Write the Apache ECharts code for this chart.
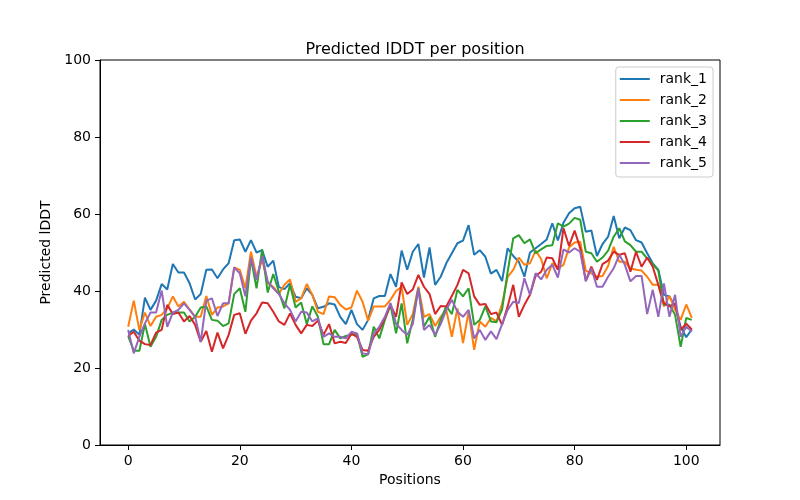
<!DOCTYPE html>
<html>
<head>
<meta charset="utf-8">
<script src="https://cdn.jsdelivr.net/npm/echarts@6/dist/echarts.min.js"></script>
<style>html,body{margin:0;padding:0;background:#fff}#c{width:800px;height:500px}</style>
</head>
<body>
<div id="c"></div>
<script>
const positions = [0,1,2,3,4,5,6,7,8,9,10,11,12,13,14,15,16,17,18,19,20,21,22,23,24,25,26,27,28,29,30,31,32,33,34,35,36,37,38,39,40,41,42,43,44,45,46,47,48,49,50,51,52,53,54,55,56,57,58,59,60,61,62,63,64,65,66,67,68,69,70,71,72,73,74,75,76,77,78,79,80,81,82,83,84,85,86,87,88,89,90,91,92,93,94,95,96,97,98,99,100,101];
const seriesNames = ["rank_1","rank_2","rank_3","rank_4","rank_5"];
const xTicks = [0,20,40,60,80,100];

const rank1 = [29.0,30.0,28.6,38.3,35.1,37.5,41.8,40.4,47.0,44.8,44.8,42.0,37.8,39.2,45.5,45.6,43.3,45.6,47.2,53.2,53.4,50.2,53.2,50.0,50.6,46.3,47.9,41.0,40.5,42.0,38.5,38.1,40.7,39.0,35.5,35.9,36.8,36.5,33.3,31.4,35.1,31.4,29.9,32.5,38.1,38.7,38.7,44.4,41.1,50.5,45.5,50.2,52.2,43.5,51.3,41.6,43.7,47.2,49.8,52.4,53.1,57.1,49.4,50.6,48.9,44.5,45.5,42.6,51.1,49.1,47.6,43.7,50.0,51.1,52.2,53.4,57.6,53.1,57.7,60.2,61.5,61.9,55.4,55.7,49.1,52.2,54.1,59.5,53.7,56.5,55.8,53.2,52.6,49.8,47.2,45.5,39.0,38.6,35.9,30.7,28.0,30.0];
const rank2 = [30.7,37.5,29.9,34.4,30.9,33.3,33.8,35.5,38.6,36.0,37.2,35.2,33.3,33.3,38.7,33.8,35.7,36.0,36.8,46.1,45.5,40.7,50.2,43.7,48.1,42.0,41.1,39.2,41.6,43.0,37.2,38.1,41.8,39.0,34.6,34.0,38.6,38.4,36.4,35.2,35.7,40.1,37.2,32.3,36.0,36.0,36.0,37.7,40.0,41.1,31.2,34.0,41.1,33.3,34.0,30.9,33.3,35.1,28.1,35.5,26.5,34.6,24.7,32.1,30.7,33.0,32.1,36.6,43.7,45.5,48.7,46.8,47.2,50.5,48.3,43.3,47.2,45.9,46.8,51.3,52.6,52.8,45.3,44.6,43.7,43.9,46.5,51.5,47.6,47.6,45.9,45.5,45.3,43.7,41.6,41.6,36.0,38.7,35.1,32.5,36.5,33.0];
const rank3 = [28.3,24.5,24.5,31.4,25.5,28.1,32.5,33.8,34.4,34.4,34.4,32.1,33.3,35.7,36.0,32.5,32.3,30.9,31.6,39.2,40.7,34.6,48.5,40.7,50.8,39.6,44.4,39.8,35.5,41.6,35.7,37.0,31.4,36.0,33.3,26.2,26.2,29.9,27.7,28.3,28.6,28.9,22.9,23.6,30.7,27.7,32.5,36.4,29.0,36.8,26.4,32.6,40.7,30.7,33.3,28.1,32.5,36.1,34.0,40.3,38.6,40.7,31.2,32.5,36.0,32.1,31.9,35.2,45.0,53.7,54.5,52.4,53.4,49.8,50.8,51.7,51.9,57.6,56.7,57.5,59.0,58.5,50.2,49.8,47.6,48.7,50.5,54.1,56.3,52.9,51.9,50.2,50.2,48.5,47.0,45.3,36.4,36.4,33.8,25.5,33.0,32.5];
const rank4 = [28.3,29.4,27.1,26.2,26.0,29.2,29.9,36.4,34.0,34.4,32.1,33.5,31.2,26.8,29.6,24.2,29.2,25.1,28.6,33.8,34.2,28.9,32.3,34.2,37.0,36.8,34.6,32.1,31.2,34.2,31.2,29.0,31.2,30.9,32.3,28.6,31.4,26.4,26.8,26.5,28.9,28.1,24.7,24.5,28.1,29.9,32.9,36.4,33.3,42.2,39.2,40.4,44.2,41.1,39.2,34.0,36.1,36.0,38.7,41.6,45.5,44.6,38.6,36.4,36.6,34.0,34.4,31.2,36.0,41.6,33.3,36.4,39.0,43.9,45.0,48.7,48.5,45.5,56.3,51.7,55.7,51.1,42.7,46.3,42.9,47.0,47.9,50.2,49.4,49.8,45.0,50.2,46.3,48.7,46.3,41.6,36.8,36.0,36.8,29.9,31.5,30.0];
const rank5 = [29.9,23.8,28.1,31.6,34.4,34.4,40.1,30.7,34.4,35.1,36.8,35.1,33.3,26.8,37.5,38.1,33.5,36.8,36.8,46.1,44.6,38.6,48.7,42.9,49.1,42.5,40.7,39.2,36.8,35.1,32.1,34.6,34.4,32.1,32.9,28.1,29.0,28.1,28.1,27.7,29.4,29.0,23.8,23.6,29.0,30.7,33.3,36.9,31.5,29.9,28.6,31.4,40.7,29.9,31.2,28.6,31.4,35.1,37.7,34.6,33.3,35.1,27.7,29.9,27.3,29.5,27.5,31.4,35.1,37.2,36.9,43.3,39.0,44.6,43.0,45.5,46.8,43.5,50.8,50.0,51.1,50.2,42.5,45.9,41.1,41.1,43.7,45.9,49.4,46.8,42.5,43.9,43.9,34.0,40.3,33.3,42.0,33.3,39.0,28.1,30.7,29.5];

const allValues = [rank1, rank2, rank3, rank4, rank5];
const colors = ['#1f77b4','#ff7f0e','#2ca02c','#d62728','#9467bd'];
const font = 'DejaVu Sans';

const chart = echarts.init(document.getElementById('c'), null, {renderer: 'canvas'});
chart.setOption({
  animation: false,
  backgroundColor: '#fff',
  textStyle: {fontFamily: font},
  title: {
    text: 'Predicted lDDT per position',
    left: 410, top: 37, textAlign: 'center',
    textStyle: {fontFamily: font, fontSize: 16, fontWeight: 'normal', color: '#000'}
  },
  grid: {left: 100, right: 80, top: 60, bottom: 55, show: true, borderColor: '#000', borderWidth: 1, backgroundColor: 'transparent'},
  legend: {
    orient: 'vertical', right: 87, top: 67,
    data: seriesNames,
    icon: 'rect',
    itemWidth: 30, itemHeight: 2, itemGap: 7,
    padding: [5, 6, 7, 4],
    borderColor: '#ccc', borderWidth: 1, borderRadius: 3,
    backgroundColor: 'rgba(255,255,255,0.8)',
    textStyle: {fontFamily: font, fontSize: 14, color: '#000', lineHeight: 14, padding: [0,0,0,5]}
  },
  xAxis: {
    type: 'value', min: -5.05, max: 106.05,
    name: 'Positions', nameLocation: 'middle', nameGap: 28,
    nameTextStyle: {fontFamily: font, fontSize: 14, color: '#000'},
    axisLine: {show: true, onZero: false, lineStyle: {color: '#000', width: 1}},
    axisTick: {show: true, length: 5, lineStyle: {color: '#000'}, customValues: xTicks},
    axisLabel: {fontFamily: font, fontSize: 14, color: '#000', margin: 9, customValues: xTicks},
    splitLine: {show: false}
  },
  yAxis: {
    type: 'value', min: 0, max: 100, interval: 20,
    name: 'Predicted lDDT', nameLocation: 'middle', nameGap: 43,
    nameTextStyle: {fontFamily: font, fontSize: 14, color: '#000'},
    axisLine: {show: true, onZero: false, lineStyle: {color: '#000', width: 1}},
    axisTick: {show: true, length: 5, lineStyle: {color: '#000'}},
    axisLabel: {fontFamily: font, fontSize: 14, color: '#000', margin: 9},
    splitLine: {show: false}
  },
  series: seriesNames.map((n, k) => ({
    name: n, type: 'line', symbol: 'none', showSymbol: false,
    color: colors[k],
    lineStyle: {width: 2, color: colors[k]},
    data: allValues[k].map((v, i) => [positions[i], v])
  }))
});
</script>
</body>
</html>
